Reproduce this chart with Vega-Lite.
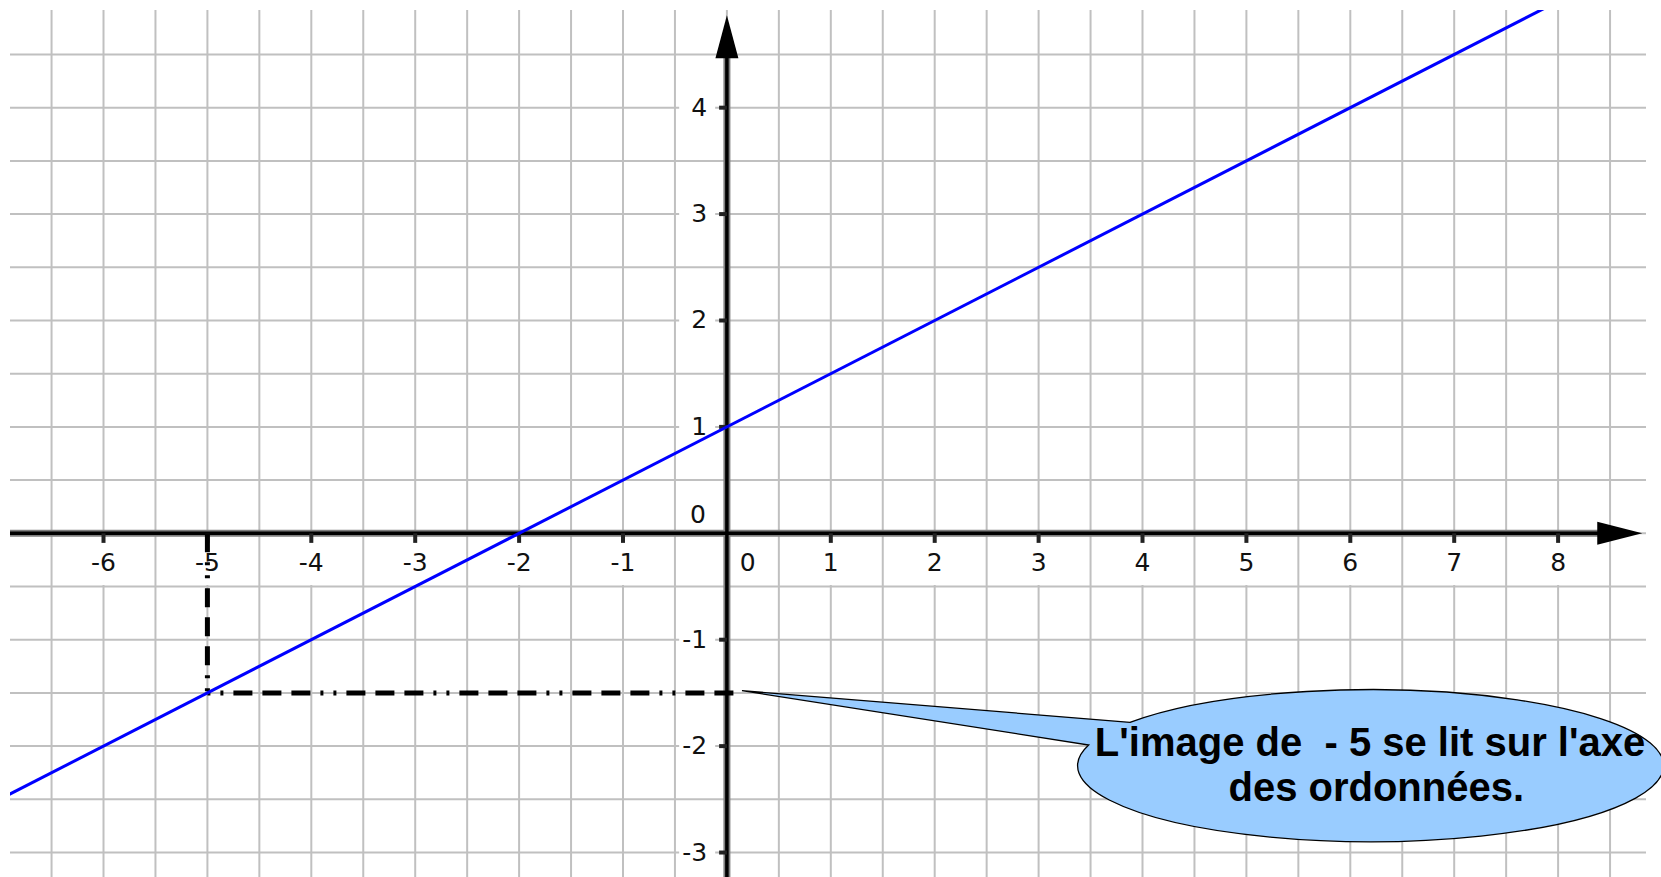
{
  "$schema": "https://vega.github.io/schema/vega-lite/v6.json",
  "width": 1636,
  "height": 867,
  "autosize": {"type": "none"},
  "padding": {"left": 10, "top": 10, "right": 15, "bottom": 0},
  "background": "white",
  "config": {"view": {"stroke": null}},
  "datasets": {
    "one": [{"k": 1}],
    "gridx": [{"v":-6.5},{"v":-6},{"v":-5.5},{"v":-5},{"v":-4.5},{"v":-4},{"v":-3.5},{"v":-3},{"v":-2.5},{"v":-2},{"v":-1.5},{"v":-1},{"v":-0.5},{"v":0},{"v":0.5},{"v":1},{"v":1.5},{"v":2},{"v":2.5},{"v":3},{"v":3.5},{"v":4},{"v":4.5},{"v":5},{"v":5.5},{"v":6},{"v":6.5},{"v":7},{"v":7.5},{"v":8},{"v":8.5}],
    "gridy": [{"v":-3},{"v":-2.5},{"v":-2},{"v":-1.5},{"v":-1},{"v":-0.5},{"v":0},{"v":0.5},{"v":1},{"v":1.5},{"v":2},{"v":2.5},{"v":3},{"v":3.5},{"v":4},{"v":4.5}],
    "xlab": [{"x":-6,"t":"-6"},{"x":-5,"t":"-5"},{"x":-4,"t":"-4"},{"x":-3,"t":"-3"},{"x":-2,"t":"-2"},{"x":-1,"t":"-1"},{"x":0.2,"t":"0"},{"x":1,"t":"1"},{"x":2,"t":"2"},{"x":3,"t":"3"},{"x":4,"t":"4"},{"x":5,"t":"5"},{"x":6,"t":"6"},{"x":7,"t":"7"},{"x":8,"t":"8"}],
    "xtick": [{"x":-6},{"x":-5},{"x":-4},{"x":-3},{"x":-2},{"x":-1},{"x":1},{"x":2},{"x":3},{"x":4},{"x":5},{"x":6},{"x":7},{"x":8}],
    "ylab": [{"y":-3,"t":"-3"},{"y":-2,"t":"-2"},{"y":-1,"t":"-1"},{"y":1,"t":"1"},{"y":2,"t":"2"},{"y":3,"t":"3"},{"y":4,"t":"4"}],
    "fline": [{"x":-7,"y":-2.5},{"x":8,"y":5}],
    "callout": [{"x":6.17,"y":-2.187}],
    "note": [{"x":6.19,"y":-2.093,"t":"L'image de \u00a0- 5 se lit sur l'axe"},{"x":6.25,"y":-2.52,"t":"des ordonnées."}]
  },
  "data": {"name": "one"},
  "layer": [
    {
      "data": {"name": "gridx"},
      "mark": {"type": "rule", "color": "#c0c0c0", "strokeWidth": 2},
      "encoding": {
        "x": {"field": "v", "type": "quantitative", "axis": null, "scale": {"domain": [-6.9, 8.846], "nice": false, "zero": false}}
      }
    },
    {
      "data": {"name": "gridy"},
      "mark": {"type": "rule", "color": "#c0c0c0", "strokeWidth": 2},
      "encoding": {
        "y": {"field": "v", "type": "quantitative", "axis": null, "scale": {"domain": [-3.23, 4.918], "nice": false, "zero": false}}
      }
    },
    {
      "data": {"name": "xlab"},
      "mark": {"type": "point", "shape": "M -19 -21 H 19 V 22 H -19 Z", "size": 4, "filled": true, "fill": "white", "strokeWidth": 0, "opacity": 1},
      "encoding": {
        "x": {"field": "x", "type": "quantitative", "axis": null, "scale": {"domain": [-6.9, 8.846], "nice": false, "zero": false}},
        "y": {"datum": -0.28, "type": "quantitative", "axis": null, "scale": {"domain": [-3.23, 4.918], "nice": false, "zero": false}}
      }
    },
    {
      "data": {"name": "ylab"},
      "mark": {"type": "point", "shape": "M -28 -14 H 8 V 14 H -28 Z", "size": 4, "filled": true, "fill": "white", "strokeWidth": 0, "opacity": 1},
      "encoding": {
        "x": {"datum": -0.19, "type": "quantitative", "axis": null, "scale": {"domain": [-6.9, 8.846], "nice": false, "zero": false}},
        "y": {"field": "y", "type": "quantitative", "axis": null, "scale": {"domain": [-3.23, 4.918], "nice": false, "zero": false}}
      }
    },
    {
      "data": {"name": "one"},
      "mark": {"type": "rule", "color": "#7f7f7f", "strokeWidth": 7},
      "encoding": {
        "x": {"datum": -6.9, "type": "quantitative", "axis": null, "scale": {"domain": [-6.9, 8.846], "nice": false, "zero": false}},
        "x2": {"datum": 8.4},
        "y": {"datum": 0, "type": "quantitative", "axis": null, "scale": {"domain": [-3.23, 4.918], "nice": false, "zero": false}}
      }
    },
    {
      "data": {"name": "one"},
      "mark": {"type": "rule", "color": "#7f7f7f", "strokeWidth": 7},
      "encoding": {
        "x": {"datum": 0, "type": "quantitative", "axis": null, "scale": {"domain": [-6.9, 8.846], "nice": false, "zero": false}},
        "y": {"datum": -3.23, "type": "quantitative", "axis": null, "scale": {"domain": [-3.23, 4.918], "nice": false, "zero": false}},
        "y2": {"datum": 4.47}
      }
    },
    {
      "data": {"name": "one"},
      "mark": {"type": "rule", "color": "#000000", "strokeWidth": 3.5},
      "encoding": {
        "x": {"datum": -6.9, "type": "quantitative", "axis": null, "scale": {"domain": [-6.9, 8.846], "nice": false, "zero": false}},
        "x2": {"datum": 8.4},
        "y": {"datum": 0, "type": "quantitative", "axis": null, "scale": {"domain": [-3.23, 4.918], "nice": false, "zero": false}}
      }
    },
    {
      "data": {"name": "one"},
      "mark": {"type": "rule", "color": "#000000", "strokeWidth": 3.5},
      "encoding": {
        "x": {"datum": 0, "type": "quantitative", "axis": null, "scale": {"domain": [-6.9, 8.846], "nice": false, "zero": false}},
        "y": {"datum": -3.23, "type": "quantitative", "axis": null, "scale": {"domain": [-3.23, 4.918], "nice": false, "zero": false}},
        "y2": {"datum": 4.47}
      }
    },
    {
      "data": {"name": "xtick"},
      "mark": {"type": "rule", "color": "#222222", "strokeWidth": 4},
      "encoding": {
        "x": {"field": "x", "type": "quantitative", "axis": null, "scale": {"domain": [-6.9, 8.846], "nice": false, "zero": false}},
        "y": {"datum": 0, "type": "quantitative", "axis": null, "scale": {"domain": [-3.23, 4.918], "nice": false, "zero": false}},
        "y2": {"datum": -0.09}
      }
    },
    {
      "data": {"name": "ylab"},
      "mark": {"type": "rule", "color": "#222222", "strokeWidth": 4},
      "encoding": {
        "x": {"datum": -0.075, "type": "quantitative", "axis": null, "scale": {"domain": [-6.9, 8.846], "nice": false, "zero": false}},
        "x2": {"datum": 0},
        "y": {"field": "y", "type": "quantitative", "axis": null, "scale": {"domain": [-3.23, 4.918], "nice": false, "zero": false}}
      }
    },
    {
      "data": {"name": "one"},
      "mark": {"type": "point", "shape": "M 0 -43 L -11.5 0 L 11.5 0 Z", "size": 4, "filled": true, "fill": "#000000", "strokeWidth": 0, "opacity": 1},
      "encoding": {
        "x": {"datum": 0, "type": "quantitative", "axis": null, "scale": {"domain": [-6.9, 8.846], "nice": false, "zero": false}},
        "y": {"datum": 4.464, "type": "quantitative", "axis": null, "scale": {"domain": [-3.23, 4.918], "nice": false, "zero": false}}
      }
    },
    {
      "data": {"name": "one"},
      "mark": {"type": "point", "shape": "M 45 0 L 0 -11.5 L 0 11.5 Z", "size": 4, "filled": true, "fill": "#000000", "strokeWidth": 0, "opacity": 1},
      "encoding": {
        "x": {"datum": 8.377, "type": "quantitative", "axis": null, "scale": {"domain": [-6.9, 8.846], "nice": false, "zero": false}},
        "y": {"datum": 0, "type": "quantitative", "axis": null, "scale": {"domain": [-3.23, 4.918], "nice": false, "zero": false}}
      }
    },
    {
      "data": {"name": "xlab"},
      "mark": {"type": "text", "font": "DejaVu Sans", "fontSize": 25, "color": "#111111", "align": "center", "baseline": "middle"},
      "encoding": {
        "x": {"field": "x", "type": "quantitative", "axis": null, "scale": {"domain": [-6.9, 8.846], "nice": false, "zero": false}},
        "y": {"datum": -0.282, "type": "quantitative", "axis": null, "scale": {"domain": [-3.23, 4.918], "nice": false, "zero": false}},
        "text": {"field": "t"}
      }
    },
    {
      "data": {"name": "ylab"},
      "mark": {"type": "text", "font": "DejaVu Sans", "fontSize": 25, "color": "#111111", "align": "right", "baseline": "middle"},
      "encoding": {
        "x": {"datum": -0.19, "type": "quantitative", "axis": null, "scale": {"domain": [-6.9, 8.846], "nice": false, "zero": false}},
        "y": {"field": "y", "type": "quantitative", "axis": null, "scale": {"domain": [-3.23, 4.918], "nice": false, "zero": false}},
        "text": {"field": "t"}
      }
    },
    {
      "data": {"name": "one"},
      "mark": {"type": "text", "font": "DejaVu Sans", "fontSize": 25, "color": "#111111", "align": "center", "baseline": "middle", "text": "0"},
      "encoding": {
        "x": {"datum": -0.278, "type": "quantitative", "axis": null, "scale": {"domain": [-6.9, 8.846], "nice": false, "zero": false}},
        "y": {"datum": 0.17, "type": "quantitative", "axis": null, "scale": {"domain": [-3.23, 4.918], "nice": false, "zero": false}}
      }
    },
    {
      "data": {"name": "one"},
      "mark": {"type": "rule", "color": "#000000", "strokeWidth": 5, "strokeDash": [19, 10, 19, 10, 19, 10, 3, 10, 3, 10], "strokeDashOffset": 58},
      "encoding": {
        "x": {"datum": -5, "type": "quantitative", "axis": null, "scale": {"domain": [-6.9, 8.846], "nice": false, "zero": false}},
        "y": {"datum": 0, "type": "quantitative", "axis": null, "scale": {"domain": [-3.23, 4.918], "nice": false, "zero": false}},
        "y2": {"datum": -1.5}
      }
    },
    {
      "data": {"name": "one"},
      "mark": {"type": "rule", "color": "#000000", "strokeWidth": 5, "strokeDash": [19, 10, 19, 10, 19, 10, 3, 10, 3, 10], "strokeDashOffset": 87},
      "encoding": {
        "x": {"datum": -5, "type": "quantitative", "axis": null, "scale": {"domain": [-6.9, 8.846], "nice": false, "zero": false}},
        "x2": {"datum": 0.08},
        "y": {"datum": -1.5, "type": "quantitative", "axis": null, "scale": {"domain": [-3.23, 4.918], "nice": false, "zero": false}}
      }
    },
    {
      "data": {"name": "fline"},
      "mark": {"type": "line", "color": "#0000ff", "strokeWidth": 3, "clip": true},
      "encoding": {
        "x": {"field": "x", "type": "quantitative", "axis": null, "scale": {"domain": [-6.9, 8.846], "nice": false, "zero": false}},
        "y": {"field": "y", "type": "quantitative", "axis": null, "scale": {"domain": [-3.23, 4.918], "nice": false, "zero": false}}
      }
    },
    {
      "data": {"name": "callout"},
      "mark": {"type": "point", "shape": "M -238 -43.7 A 293 76 0 1 1 -279.3 -21 L -626 -75.3 Z", "size": 4, "filled": true, "fill": "#99ccff", "stroke": "#000000", "strokeWidth": 1.3, "opacity": 1},
      "encoding": {
        "x": {"field": "x", "type": "quantitative", "axis": null, "scale": {"domain": [-6.9, 8.846], "nice": false, "zero": false}},
        "y": {"field": "y", "type": "quantitative", "axis": null, "scale": {"domain": [-3.23, 4.918], "nice": false, "zero": false}}
      }
    },
    {
      "data": {"name": "note"},
      "mark": {"type": "text", "font": "Liberation Sans", "fontSize": 40, "fontWeight": "bold", "color": "#000000", "align": "center", "baseline": "alphabetic"},
      "encoding": {
        "x": {"field": "x", "type": "quantitative", "axis": null, "scale": {"domain": [-6.9, 8.846], "nice": false, "zero": false}},
        "y": {"field": "y", "type": "quantitative", "axis": null, "scale": {"domain": [-3.23, 4.918], "nice": false, "zero": false}},
        "text": {"field": "t"}
      }
    }
  ]
}
